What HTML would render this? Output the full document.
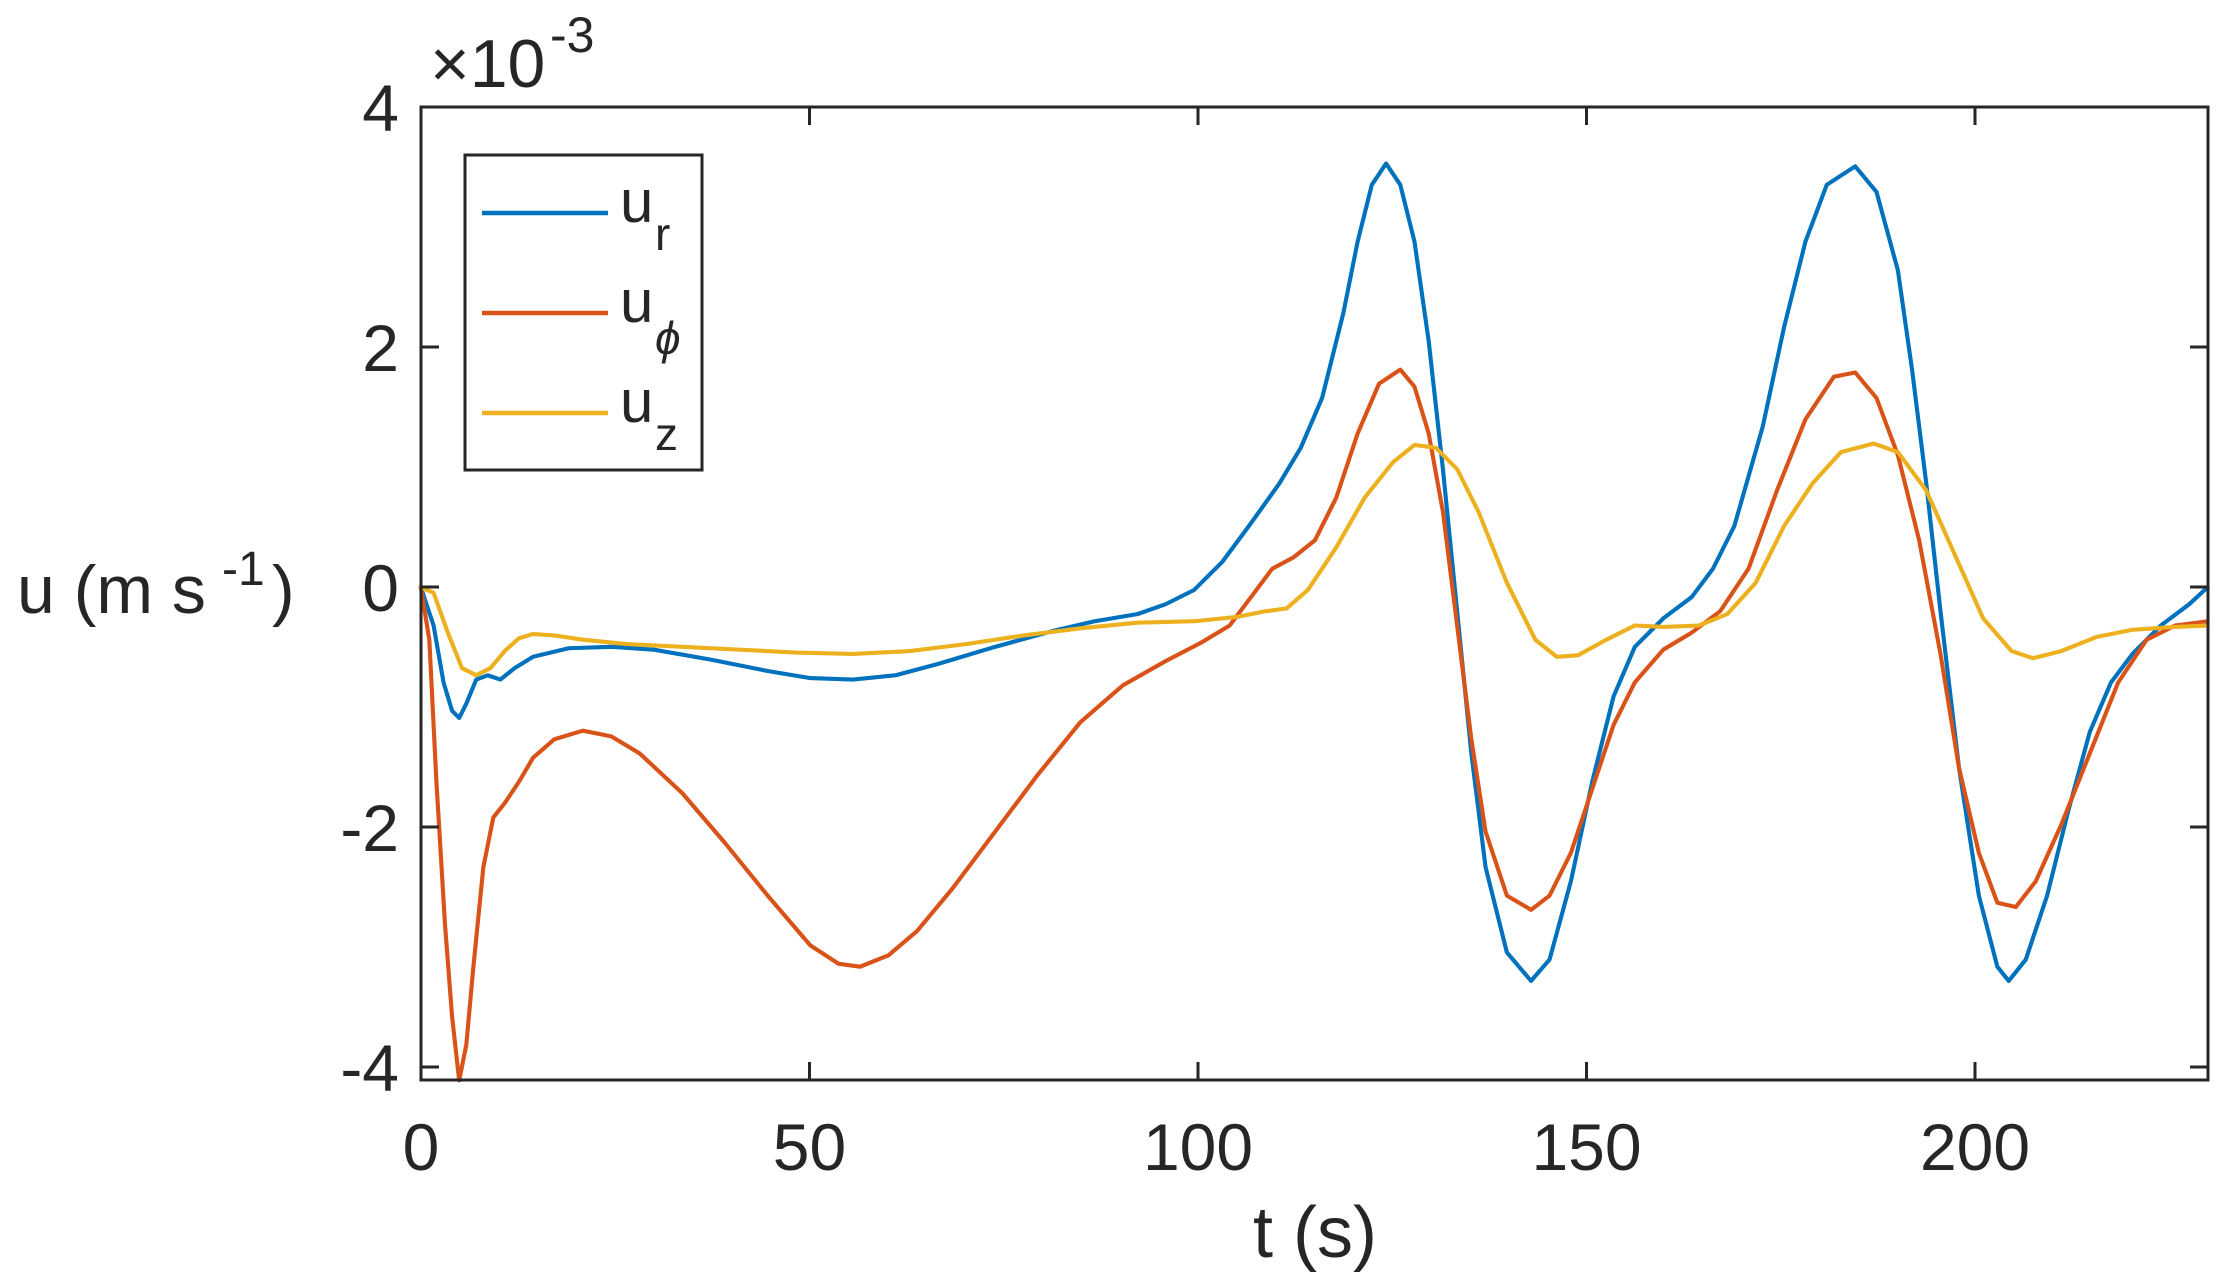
<!DOCTYPE html>
<html><head><meta charset="utf-8"><style>
html,body{margin:0;padding:0;background:#fff;}
svg{display:block;}
text{font-family:"Liberation Sans",Arial,sans-serif;fill:#262626;}
</style></head><body>
<svg width="2229" height="1283" viewBox="0 0 2229 1283" xmlns="http://www.w3.org/2000/svg">
<rect width="2229" height="1283" fill="#fff"/>
<g transform="scale(1.4216)" fill="none" stroke-width="2.9" stroke-linejoin="round" stroke-linecap="round">
<polyline stroke="#0072BD" points="296,413 305,440 312,480 318,500 323,505 328,495 335,478 343,475 352,478 362,470 375,462 400,456 430,455 460,457 500,464 540,472 570,477 600,478 630,475 660,467 700,455 740,444 770,437 800,432 820,425 840,415 860,395 880,368 900,340 915,315 930,280 945,220 955,170 965,130 975,115 985,130 995,170 1005,240 1015,330 1025,430 1035,530 1045,610 1060,670 1077,690 1090,675 1105,620 1120,550 1135,490 1150,455 1170,435 1190,420 1205,400 1220,370 1240,300 1255,230 1270,170 1285,130 1305,117 1320,135 1335,190 1345,260 1355,340 1365,430 1378,540 1392,630 1405,680 1413,690 1425,675 1440,630 1455,570 1470,515 1485,480 1500,460 1520,440 1540,425 1553,413"/>
<polyline stroke="#D95319" points="296,413 302,450 307,550 313,650 318,715 323,760 328,735 333,680 340,610 347,575 355,565 365,550 375,533 390,520 410,514 430,518 450,530 480,558 510,593 540,630 570,665 590,678 605,680 625,672 645,655 670,625 700,585 730,545 760,508 790,482 820,465 845,452 865,440 880,420 895,400 910,392 925,380 940,350 955,305 970,270 985,260 995,272 1005,305 1015,360 1025,440 1035,520 1045,585 1060,630 1077,640 1090,630 1105,600 1120,555 1135,510 1150,480 1170,457 1190,445 1210,430 1230,400 1250,345 1270,295 1290,265 1305,262 1320,280 1335,320 1350,380 1365,460 1378,540 1392,600 1405,635 1418,638 1432,620 1450,580 1470,530 1490,480 1510,450 1530,440 1553,437"/>
<polyline stroke="#EDB120" points="296,413 305,417 315,445 325,470 335,475 345,470 355,458 365,449 375,446 390,447 410,450 440,453 480,455 520,457 560,459 600,460 640,458 680,453 720,447 760,442 800,438 840,437 870,434 890,430 905,428 920,415 940,385 960,350 980,325 995,313 1010,315 1025,330 1040,360 1060,410 1080,450 1095,462 1110,461 1130,450 1150,440 1170,441 1195,440 1215,432 1235,410 1255,370 1275,340 1295,318 1318,312 1335,318 1355,345 1375,390 1395,435 1415,458 1430,463 1450,458 1475,448 1500,443 1530,441 1553,440"/>
</g>
<g stroke="#262626" stroke-width="3" fill="none">
<rect x="421" y="107" width="1787" height="973"/>
<path d="M421,107h18M421,347h18M421,587h18M421,827h18M421,1067h18 M2208,107h-18M2208,347h-18M2208,587h-18M2208,827h-18M2208,1067h-18"/>
<path d="M421,1080v-18M809.5,1080v-18M1198,1080v-18M1586.5,1080v-18M1975,1080v-18 M809.5,107v18M1198,107v18M1586.5,107v18M1975,107v18"/>
<rect x="465" y="155" width="237" height="315" fill="#fff"/>
</g>
<g stroke-width="4.5">
<line x1="482" y1="213" x2="608" y2="213" stroke="#0072BD"/>
<line x1="482" y1="313" x2="608" y2="313" stroke="#D95319"/>
<line x1="482" y1="413" x2="608" y2="413" stroke="#EDB120"/>
</g>
<g font-size="60">
<text x="620" y="222">u</text><text x="655" y="250" font-size="46">r</text>
<text x="620" y="322">u</text><text x="655" y="354" font-size="46" font-style="italic">ϕ</text>
<text x="620" y="422">u</text><text x="655" y="450" font-size="46">z</text>
</g>
<g font-size="66" text-anchor="end">
<text x="399" y="131">4</text>
<text x="399" y="371">2</text>
<text x="399" y="611">0</text>
<text x="399" y="851">-2</text>
<text x="399" y="1091">-4</text>
</g>
<g font-size="66" text-anchor="middle">
<text x="421" y="1170">0</text>
<text x="809.5" y="1170">50</text>
<text x="1198" y="1170">100</text>
<text x="1586.5" y="1170">150</text>
<text x="1975" y="1170">200</text>
</g>
<text x="430" y="87" font-size="68">×10</text>
<text x="550" y="52" font-size="50">-3</text>
<text x="1315" y="1257" font-size="72" text-anchor="middle">t (s)</text>
<text x="17" y="613" font-size="68">u (m s</text><text x="222" y="585" font-size="48">-1</text><text x="272" y="613" font-size="68">)</text>
</svg>
</body></html>
